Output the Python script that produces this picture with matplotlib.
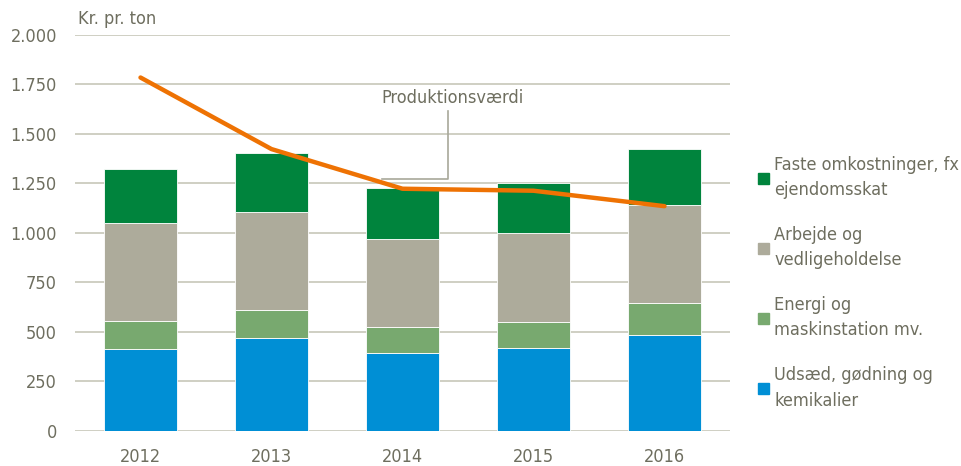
import matplotlib
matplotlib.use('Agg')
import matplotlib.pyplot as plt
import numpy as np
from matplotlib.patches import Patch

plt.rcParams['font.family'] = ['DejaVu Sans', 'Liberation Sans']
plt.rcParams['font.stretch'] = 'condensed'

years = ['2012', '2013', '2014', '2015', '2016']
udsaed = [413, 470, 395, 417, 486]
energi = [143, 141, 131, 134, 158]
arbejde = [493, 496, 444, 446, 495]
faste = [272, 296, 257, 252, 281]
produktion = [1783, 1422, 1222, 1212, 1134]

labels = ['Udsæd, gødning og\nkemikalier', 'Energi og\nmaskinstation mv.',
          'Arbejde og\nvedligeholdelse', 'Faste omkostninger, fx\nejendomsskat']
colors = ['#008fd5', '#78a96f', '#adab9b', '#00843d']
text_col = '#6e6e5f'
grid_col = '#cbcbbe'

fig = plt.figure(figsize=(9.61, 4.66), dpi=100)
ax = fig.add_axes([75/961, 1-431/466, 655/961, (431-34.5)/466])

x = np.arange(len(years))
bottom = np.zeros(len(years))
for vals, col in zip([udsaed, energi, arbejde, faste], colors):
    ax.bar(x, vals, 0.555, bottom=bottom, color=col, edgecolor='white', linewidth=0.6, zorder=3)
    bottom += np.array(vals)

ax.plot(x, produktion, color='#ee7203', lw=3.2, zorder=4, solid_capstyle='round')

ax.set_xlim(-0.5, 4.5)
ax.set_ylim(0, 2000)
ax.set_yticks(np.arange(0, 2001, 250))
ax.set_yticklabels([f'{v:,}'.replace(',', '.') for v in range(0, 2001, 250)])
ax.set_xticks(x)
ax.set_xticklabels(years)
ax.yaxis.grid(True, color=grid_col, lw=1.3, zorder=0)
for s in ax.spines.values():
    s.set_visible(False)
ax.tick_params(length=0, labelsize=13, colors=text_col)
ax.tick_params(axis='y', pad=13)
ax.tick_params(axis='x', pad=12)

ax.text(0.005, 1.04, 'Kr. pr. ton', transform=ax.transAxes, fontsize=13, color=text_col, va='center')

# annotation for the line
ax.plot([1.84, 2.35, 2.35], [1270, 1270, 1612], color='#a8a89a', lw=1.2, zorder=5)
ax.text(2.38, 1680, 'Produktionsværdi', ha='center', va='center', fontsize=13, color=text_col)

handles = [Patch(color=c) for c in colors[::-1]]
leg = fig.legend(handles, labels[::-1], loc='upper left', bbox_to_anchor=(742/961, 1-140/466),
                 frameon=False, fontsize=13, labelcolor=text_col, handlelength=0.6,
                 handleheight=0.6, handletextpad=0.3, labelspacing=1.5)
for t in leg.get_texts():
    t.set_linespacing(1.5)

plt.savefig('out.png', dpi=100)
